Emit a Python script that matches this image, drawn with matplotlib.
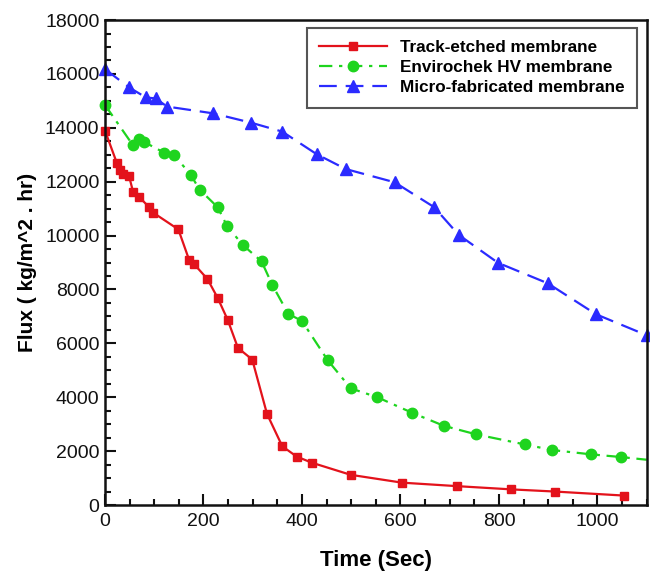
import matplotlib
matplotlib.use("Agg")
import matplotlib.pyplot as plt
from matplotlib.ticker import MultipleLocator

plt.rcParams['font.family'] = ['Liberation Sans', 'DejaVu Sans']

# Track-etched membrane
track_t = [0, 24, 30, 36, 49, 57, 69, 90, 98, 149, 171, 181, 208, 229, 249,
           270, 299, 329, 360, 389, 420, 499, 603, 715, 825, 913, 1054]
track_flux = [13900, 12700, 12450, 12270, 12200, 11630, 11440, 11050, 10850,
              10230, 9090, 8940, 8390, 7680, 6880, 5830, 5400, 3380, 2180,
              1800, 1570, 1120, 830, 700, 580, 500, 350]

# Envirochek HV membrane
env_t = [0, 57, 69, 79, 120, 140, 174, 192, 229, 248, 280, 318, 340, 372, 400,
         452, 499, 553, 624, 688, 754, 852, 908, 987, 1048, 1100]
env_flux = [14850, 13350, 13600, 13480, 13080, 13000, 12260, 11710, 11050,
            10350, 9650, 9040, 8160, 7100, 6830, 5380, 4330, 4000, 3420, 2940,
            2620, 2250, 2040, 1880, 1780, 1680]

# Micro-fabricated membrane
micro_t = [0, 49, 83, 103, 126, 219, 297, 360, 430, 489, 588, 668, 718, 798,
           899, 997, 1100]
micro_flux = [16180, 15500, 15130, 15090, 14790, 14540, 14190, 13860, 13020,
              12470, 11980, 11060, 10030, 8990, 8230, 7080, 6300]

x_ticks = [0, 200, 400, 600, 800, 1000]
y_ticks = [0, 2000, 4000, 6000, 8000, 10000, 12000, 14000, 16000, 18000]

fig = plt.figure(figsize=(6.5, 5.74), dpi=100)
ax = fig.add_axes([0.1615, 0.1202, 0.8335, 0.8448])

ax.plot(track_t, track_flux, color='#e3121b', lw=1.6, ls='-', marker='s',
        ms=5.5, clip_on=False, label='Track-etched membrane')
ax.plot(env_t, env_flux, color='#1ed41e', lw=1.6, ls=(0, (6, 3, 1.5, 3)),
        marker='o', ms=7.5, markevery=list(range(len(env_t) - 1)),
        clip_on=False, label='Envirochek HV membrane')
ax.plot(micro_t, micro_flux, color='#2b2bff', lw=1.6, ls=(0, (8, 4)),
        marker='^', ms=8, clip_on=False, label='Micro-fabricated membrane')

ax.set_xlim(0, 1100)
ax.set_ylim(0, 18000)
ax.set_xticks(x_ticks)
ax.set_yticks(y_ticks)
ax.xaxis.set_minor_locator(MultipleLocator(50))
ax.yaxis.set_minor_locator(MultipleLocator(500))

ax.tick_params(which='both', direction='in', top=False, right=False,
               width=1.5, labelsize=14, colors='#111111')
ax.tick_params(which='major', length=8)
ax.tick_params(which='minor', length=4.5)
ax.tick_params(axis='x', pad=6)
ax.tick_params(axis='y', pad=4)

for sp in ax.spines.values():
    sp.set_linewidth(1.8)
    sp.set_color('#111111')

ax.set_xlabel('Time (Sec)', fontsize=16, fontweight='bold', labelpad=14)
ax.set_ylabel('Flux ( kg/m^2 . hr)', fontsize=15, fontweight='bold', labelpad=6)

leg = ax.legend(loc='upper right', bbox_to_anchor=(0.982, 0.984),
                borderaxespad=0,
                prop={'size': 12.3, 'weight': 'bold'}, handlelength=4.0,
                handletextpad=0.75, labelspacing=0.3, borderpad=0.72,
                fancybox=False, framealpha=1, edgecolor='#555555')
leg.get_frame().set_linewidth(1.5)

fig.savefig('out.png', dpi=100)
